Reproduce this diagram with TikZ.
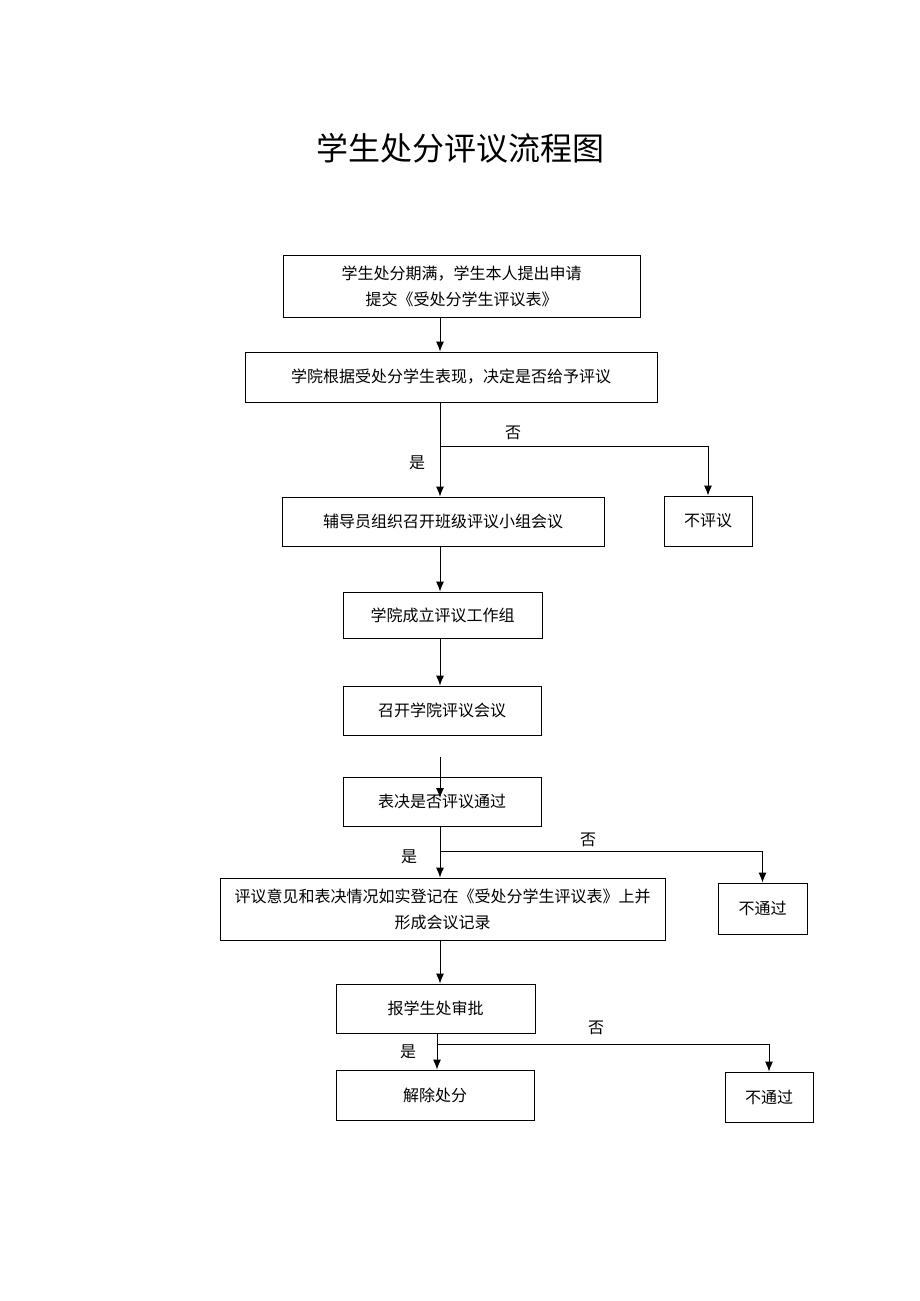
\documentclass[tikz,border=0pt]{standalone}
\usepackage{fontspec}
\setmainfont{Noto Sans CJK SC}
\usetikzlibrary{arrows.meta,positioning}

\begin{document}
\begin{tikzpicture}[x=1pt,y=-1pt,
	basic/.style  = {draw, line width=0.9pt, rectangle, align=center, inner sep=0pt,
		font=\fontsize{16}{26}\selectfont},
	decision/.style = {font=\fontsize{16}{20}\selectfont},
	>={Latex[length=10pt,width=8pt]}, line width=0.9pt]

	\useasboundingbox (0,0) rectangle (920,1301);

	% Title
	\node[font=\fontsize{32}{36}\selectfont] (title) at (460,148) {学生处分评议流程图};

	% Main column of boxes
	\node[basic, minimum width=357, minimum height=62] (b1) at (461.5,286)
		{学生处分期满，学生本人提出申请\\提交《受处分学生评议表》};
	\node[basic, minimum width=412, minimum height=50] (b2) at (451,377)
		{学院根据受处分学生表现，决定是否给予评议};
	\node[basic, minimum width=322, minimum height=49] (b3) at (443,521.5)
		{辅导员组织召开班级评议小组会议};
	\node[basic, minimum width=88, minimum height=50] (b4) at (708,521)
		{不评议};
	\node[basic, minimum width=199, minimum height=46] (b5) at (442.5,615)
		{学院成立评议工作组};
	\node[basic, minimum width=198, minimum height=49] (b6) at (442,710.5)
		{召开学院评议会议};
	\node[basic, minimum width=198, minimum height=49] (b7) at (442,801.5)
		{表决是否评议通过};
	\node[basic, minimum width=445, minimum height=62] (b8) at (442.5,909)
		{评议意见和表决情况如实登记在《受处分学生评议表》上并\\形成会议记录};
	\node[basic, minimum width=89, minimum height=51] (b9) at (762.5,908.5)
		{不通过};
	\node[basic, minimum width=199, minimum height=49] (b10) at (435.5,1008.5)
		{报学生处审批};
	\node[basic, minimum width=198, minimum height=50] (b11) at (435,1095)
		{解除处分};
	\node[basic, minimum width=88, minimum height=50] (b12) at (769,1097)
		{不通过};

	% Yes / no labels
	\node[decision] (no1)  at (513,433)  {否};
	\node[decision] (yes1) at (417,463)  {是};
	\node[decision] (no2)  at (588,840)  {否};
	\node[decision] (yes2) at (409,857)  {是};
	\node[decision] (no3)  at (596,1028) {否};
	\node[decision] (yes3) at (408,1052) {是};

	% Spine and branch points
	\coordinate (col)  at (440,0);
	\coordinate (col2) at (437,0);
	\coordinate (j1) at (440,446);
	\coordinate (j2) at (440,851);
	\coordinate (j3) at (437,1044);
	\coordinate (s7) at (440,757);
	\coordinate (e7) at (440,798);

	% Connectors
	\draw[->] (b1.south -| col) -- (b2.north -| col);
	\draw[->] (b2.south -| col) -- (b3.north -| col);
	\draw[->] (j1) -| (b4.north);
	\draw[->] (b3.south -| col) -- (b5.north -| col);
	\draw[->] (b5.south -| col) -- (b6.north -| col);
	\draw[->] (s7) -- (e7);
	\draw[->] (b7.south -| col) -- (b8.north -| col);
	\draw[->] (j2) -| (b9.north);
	\draw[->] (b8.south -| col) -- (b10.north -| col);
	\draw[->] (b10.south -| col2) -- (b11.north -| col2);
	\draw[->] (j3) -| (b12.north);

\end{tikzpicture}
\end{document}
